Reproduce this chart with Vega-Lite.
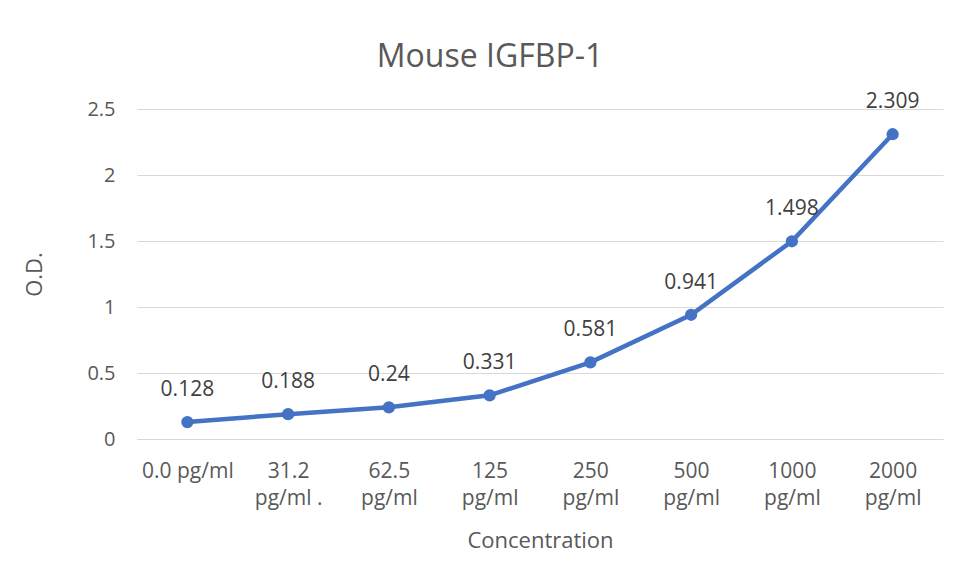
{
  "$schema": "https://vega.github.io/schema/vega-lite/v6.json",
  "width": 806,
  "height": 330,
  "autosize": "none",
  "padding": {"left": 137, "top": 109, "right": 18, "bottom": 145},
  "background": "white",
  "config": {
    "font": "Open Sans",
    "view": {"stroke": null},
    "axis": {"labelColor": "#595959", "titleColor": "#595959", "labelFontSize": 20, "titleFontSize": 22, "titleFontWeight": "normal", "ticks": false, "gridColor": "#d9d9d9", "domainColor": "#d9d9d9"}
  },
  "title": {"text": "Mouse IGFBP-1", "fontSize": 32, "fontWeight": "normal", "color": "#595959", "font": "Open Sans", "dx": -50, "offset": 17, "anchor": "middle"},
  "data": {"values": [
    {"conc": "0.0 pg/ml", "od": 0.128},
    {"conc": "31.2|pg/ml .", "od": 0.188},
    {"conc": "62.5|pg/ml", "od": 0.24},
    {"conc": "125|pg/ml", "od": 0.331},
    {"conc": "250|pg/ml", "od": 0.581},
    {"conc": "500|pg/ml", "od": 0.941},
    {"conc": "1000|pg/ml", "od": 1.498},
    {"conc": "2000|pg/ml", "od": 2.309}
  ]},
  "encoding": {
    "x": {"field": "conc", "type": "ordinal", "sort": null, "scale": {"type": "point", "padding": 0.5},
      "axis": {"title": "Concentration", "labelAngle": 0, "labelExpr": "split(datum.value, '|')", "labelBaseline": "top", "labelFontSize": 21, "labelPadding": 21, "labelLineHeight": 27, "titlePadding": 22, "domain": true, "grid": false}},
    "y": {"field": "od", "type": "quantitative", "scale": {"domain": [0, 2.5]},
      "axis": {"title": "O.D.", "values": [0, 0.5, 1, 1.5, 2, 2.5], "format": "~g", "domain": false, "labelPadding": 22, "titlePadding": 40}}
  },
  "layer": [
    {"mark": {"type": "line", "color": "#4472C4", "strokeWidth": 4.5}},
    {"mark": {"type": "point", "filled": true, "color": "#4472C4", "size": 150, "opacity": 1}},
    {"mark": {"type": "text", "fontSize": 21, "color": "#404040", "dy": -32, "font": "Open Sans"}, "encoding": {"text": {"field": "od", "type": "quantitative"}}}
  ]
}
